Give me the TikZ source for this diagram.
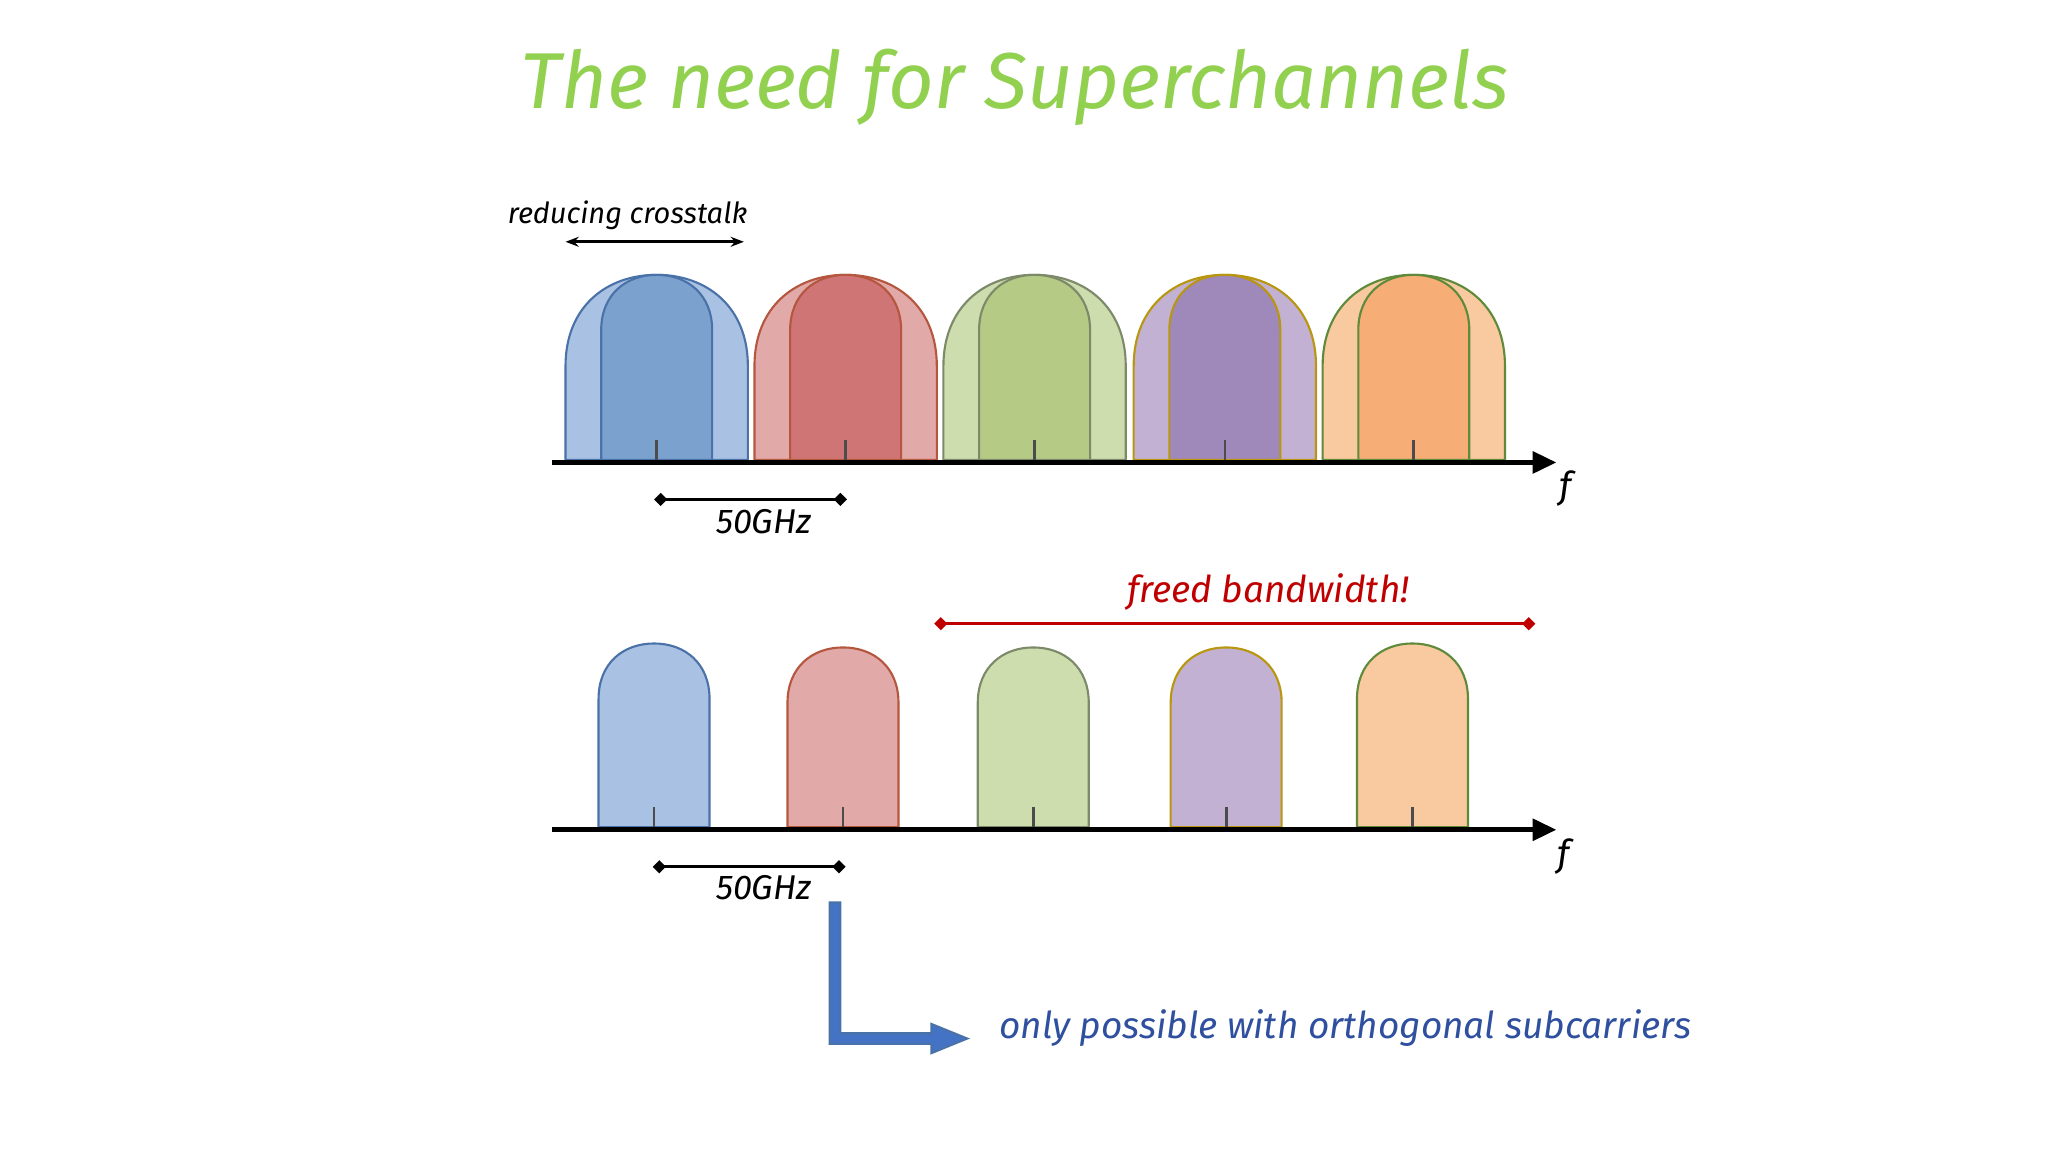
\documentclass[tikz,border=0pt]{standalone}
\usepackage{fontspec}
\setmainfont{Fira Sans}
\usetikzlibrary{arrows.meta}
\definecolor{bL}{HTML}{A9C1E3}\definecolor{bD}{HTML}{7BA1CF}\definecolor{bB}{HTML}{4A72A8}
\definecolor{rL}{HTML}{E2A9A9}\definecolor{rD}{HTML}{D07575}\definecolor{rB}{HTML}{B5563E}
\definecolor{gL}{HTML}{CEDDAE}\definecolor{gD}{HTML}{B5CB85}\definecolor{gB}{HTML}{7D8A6A}
\definecolor{pL}{HTML}{C3B1D4}\definecolor{pD}{HTML}{9F88BA}\definecolor{pB}{HTML}{B8960F}
\definecolor{oL}{HTML}{F9C9A0}\definecolor{oD}{HTML}{F6AE76}\definecolor{oB}{HTML}{5E8A3A}
\definecolor{ttl}{HTML}{92D050}\definecolor{redc}{HTML}{C00000}\definecolor{arrb}{HTML}{4472C4}
\definecolor{txtb}{HTML}{2F4F9F}
\newcommand{\dome}[6]{% cx, halfwidth, top, bottom, fill, border
  \filldraw[fill=#5,draw=#6,line width=0.8pt]
   ({#1-#2},#4) -- ({#1-#2},{#3+1.0*#2}) .. controls ({#1-#2},{#3+0.35*#2}) and ({#1-0.55*#2},#3) .. (#1,#3)
   .. controls ({#1+0.55*#2},#3) and ({#1+#2},{#3+0.35*#2}) .. ({#1+#2},{#3+1.0*#2}) -- ({#1+#2},#4) -- cycle;}
\tikzset{lbl/.style={font=\itshape},
 dim/.style={line width=1pt,{Diamond[length=5pt,width=5pt]}-{Diamond[length=5pt,width=5pt]}},
 axis/.style={line width=2pt,-{Triangle[length=9pt,width=8pt]}}}
\begin{document}
\begin{tikzpicture}[x=0.5pt,y=-0.5pt]
\useasboundingbox (0,0) rectangle (1550,872);
\fill[white] (0,0) rectangle (1550,872);
\node[text=ttl,font=\itshape\fontsize{30}{36}\selectfont] (title) at (768,66) {The need for Superchannels};
% top row
\foreach \c/\L/\D/\B in {497/bL/bD/bB,640/rL/rD/rB,783/gL/gD/gB,927/pL/pD/pB,1070/oL/oD/oB}{
  \dome{\c}{69}{208}{348}{\L}{\B}
  \dome{\c}{42}{208}{348}{\D}{\B}
  \draw[line width=1pt,black!70] (\c,333)--(\c,348);
}
\coordinate (a1s) at (418,350); \coordinate (a1e) at (1178,350);
\draw[axis] (a1s)--(a1e);
\node[lbl,font=\itshape\fontsize{14}{16}\selectfont] (f1) at (1185,370) {f};
\coordinate (d1a) at (495,378); \coordinate (d1b) at (641,378);
\draw[dim] (d1a)--(d1b);
\node[font=\itshape\fontsize{13}{15}\selectfont] (g1) at (578,395) {50GHz};
\node[font=\itshape\fontsize{11}{13}\selectfont] (rc) at (475,163) {reducing crosstalk};
\coordinate (rca) at (428,183); \coordinate (rcb) at (563,183);
\draw[line width=1pt,{Stealth[length=5pt]}-{Stealth[length=5pt]}] (rca)--(rcb);
% bottom row
\foreach \c/\L/\B/\t in {495/bL/bB/487,638/rL/rB/490,782/gL/gB/490,928/pL/pB/490,1069/oL/oB/487}{
  \dome{\c}{42}{\t}{626}{\L}{\B}
  \draw[line width=1pt,black!70] (\c,611)--(\c,626);
}
\coordinate (a2s) at (418,628); \coordinate (a2e) at (1178,628);
\draw[axis] (a2s)--(a2e);
\node[font=\itshape\fontsize{14}{16}\selectfont] (f2) at (1183,648) {f};
\coordinate (d2a) at (494,656); \coordinate (d2b) at (640,656);
\draw[dim] (d2a)--(d2b);
\node[font=\itshape\fontsize{13}{15}\selectfont] (g2) at (578,672) {50GHz};
\coordinate (fba) at (707,472); \coordinate (fbb) at (1162,472);
\draw[dim,redc] (fba)--(fbb);
\node[text=redc,font=\itshape\fontsize{14}{16}\selectfont] (fb) at (960,448) {freed bandwidth!};
% elbow arrow
\filldraw[fill=arrb,draw=bB,line width=0.8pt] (628,683)--(636,683)--(636,782)--(705,782)--(705,775)--(732,786)--(705,797)--(705,790)--(628,790)--cycle;
\node[text=txtb,font=\itshape\fontsize{14}{16}\selectfont] (op) at (1018,778) {only possible with orthogonal subcarriers};
\end{tikzpicture}
\end{document}
